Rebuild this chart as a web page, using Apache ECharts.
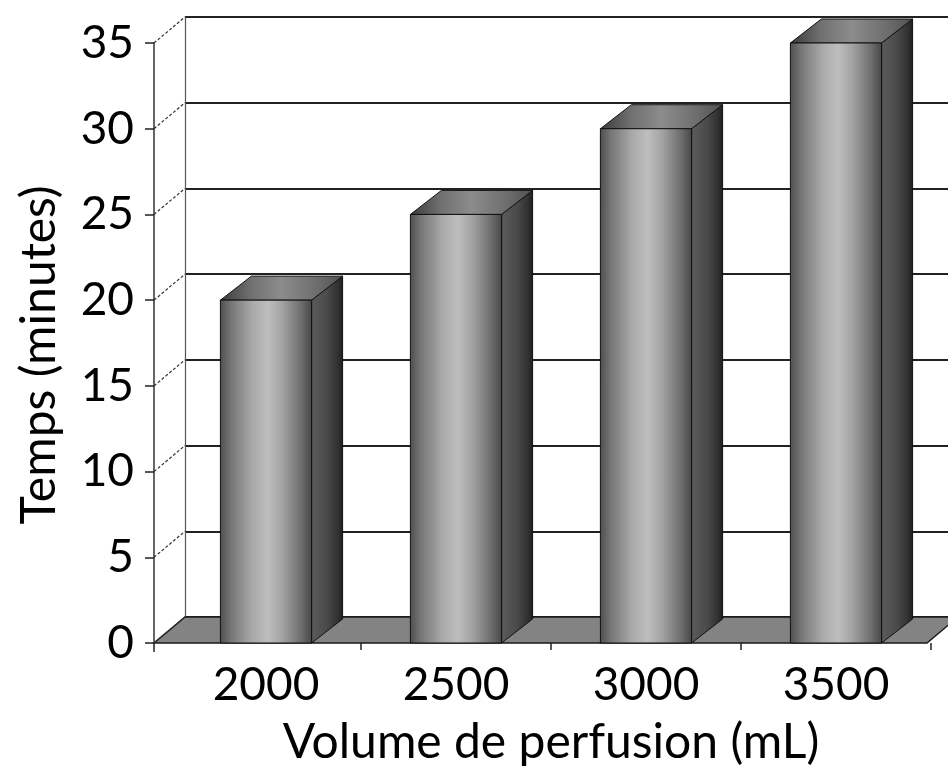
<!DOCTYPE html>
<html>
<head>
<meta charset="utf-8">
<script src="https://cdn.jsdelivr.net/npm/echarts@6/dist/echarts.min.js"></script>
<style>
  html, body { margin: 0; padding: 0; background: #fff; }
  #main { width: 948px; height: 775px; }
</style>
</head>
<body>
<div id="main"></div>
<script>
// data
const volumes = ['2000', '2500', '3000', '3500']
const temps = [20, 25, 30, 35]
const yTicks = [0, 5, 10, 15, 20, 25, 30, 35]

const FONT = 'Lato'
const DX = 31   // depth offset of the pseudo 3d walls
const DY = 26
const BDX = 31  // depth of the bars
const BDY = 24
const AXIS_OFFSET = 17

const chart = echarts.init(document.getElementById('main'))

function frontGrad() {
  return new echarts.graphic.LinearGradient(0, 0, 1, 0, [
    { offset: 0, color: '#4e4e4e' },
    { offset: 0.12, color: '#767676' },
    { offset: 0.35, color: '#a9a9a9' },
    { offset: 0.52, color: '#bebebe' },
    { offset: 0.68, color: '#a2a2a2' },
    { offset: 0.88, color: '#6e6e6e' },
    { offset: 1, color: '#474747' }
  ])
}
function sideGrad() {
  return new echarts.graphic.LinearGradient(0, 0, 1, 0, [
    { offset: 0, color: '#5c5c5c' },
    { offset: 0.5, color: '#4a4a4a' },
    { offset: 0.85, color: '#303030' },
    { offset: 1, color: '#1e1e1e' }
  ])
}
function topGrad() {
  return new echarts.graphic.LinearGradient(0, 0, 1, 0, [
    { offset: 0, color: '#3a3a3a' },
    { offset: 0.25, color: '#707070' },
    { offset: 0.5, color: '#8c8c8c' },
    { offset: 0.8, color: '#6c6c6c' },
    { offset: 1, color: '#505050' }
  ])
}

// floor, side wall edges and the little corner tick
function renderFrame(params, api) {
  const cs = params.coordSys
  const left = cs.x - AXIS_OFFSET
  const right = cs.x + cs.width - 4
  const base = api.coord([0, 0])[1]
  const children = []
  children.push({
    type: 'polygon',
    shape: { points: [[left, base], [right, base], [right + DX, base - DY], [left + DX, base - DY]] },
    style: { fill: '#838383', stroke: '#1a1a1a', lineWidth: 1.5 }
  })
  yTicks.forEach(function (v) {
    const y = api.coord([0, v])[1]
    children.push({
      type: 'line',
      shape: { x1: left, y1: y, x2: left + DX, y2: y - DY },
      style: { stroke: '#333', lineWidth: 1.2, lineDash: [3, 2] }
    })
  })
  children.push({
    type: 'line',
    shape: { x1: left, y1: base, x2: left, y2: base + 9 },
    style: { stroke: '#222', lineWidth: 1.5 }
  })
  return { type: 'group', children: children }
}

function renderBar(params, api) {
  const idx = api.value(0)
  const top = api.coord([idx, api.value(1)])
  const base = api.coord([idx, 0])
  const band = api.size([1, 0])[0]
  const w = band * 0.48
  const x0 = top[0] - w / 2
  const x1 = x0 + w
  const yt = top[1]
  const yb = base[1]
  return {
    type: 'group',
    children: [
      {
        type: 'polygon',
        shape: { points: [[x1, yb], [x1 + BDX, yb - BDY], [x1 + BDX, yt - BDY], [x1, yt]] },
        style: { fill: sideGrad(), stroke: '#111', lineWidth: 1 }
      },
      {
        type: 'polygon',
        shape: { points: [[x0, yt], [x1, yt], [x1 + BDX, yt - BDY], [x0 + BDX, yt - BDY]] },
        style: { fill: topGrad(), stroke: '#111', lineWidth: 1 }
      },
      {
        type: 'rect',
        shape: { x: x0, y: yt, width: w, height: yb - yt },
        style: { fill: frontGrad(), stroke: '#111', lineWidth: 1 }
      }
    ]
  }
}

chart.setOption({
  animation: false,
  backgroundColor: '#fff',
  grid: [
    { left: 171, right: 17, top: 43, bottom: 132 },
    // back wall, shifted up and right by the depth offset
    { left: 171 - AXIS_OFFSET + DX, right: 0, top: 43 - DY, bottom: 132 + DY }
  ],
  xAxis: [
    {
      type: 'category',
      gridIndex: 0,
      data: volumes,
      axisLine: { show: false },
      axisTick: {
        show: true,
        length: 7,
        interval: function (i) { return i !== 0 },
        lineStyle: { color: '#222', width: 1.5 }
      },
      axisLabel: { fontFamily: FONT, fontSize: 46, color: '#000', margin: 19 },
      name: 'Volume de perfusion (mL)',
      nameLocation: 'middle',
      nameGap: 76,
      nameTextStyle: { fontFamily: FONT, fontSize: 48, color: '#000' }
    },
    {
      type: 'category',
      gridIndex: 1,
      data: volumes,
      show: false
    }
  ],
  yAxis: [
    {
      type: 'value',
      gridIndex: 0,
      min: 0,
      max: 35,
      interval: 5,
      offset: AXIS_OFFSET,
      axisLine: { show: true, lineStyle: { color: '#333', width: 1.5 } },
      axisTick: { show: true, length: 9, lineStyle: { color: '#222', width: 1.5 } },
      splitLine: { show: false },
      axisLabel: { fontFamily: FONT, fontSize: 46, color: '#000', margin: 20 },
      name: 'Temps (minutes)',
      nameLocation: 'middle',
      nameGap: 90,
      nameTextStyle: { fontFamily: FONT, fontSize: 48, color: '#000', padding: [0, 24, 0, 0] }
    },
    {
      type: 'value',
      gridIndex: 1,
      min: 0,
      max: 35,
      interval: 5,
      axisLine: { show: true, lineStyle: { color: '#555', width: 1.2 } },
      axisTick: { show: false },
      axisLabel: { show: false },
      splitLine: { show: true, lineStyle: { color: '#222', width: 2 } }
    }
  ],
  series: [
    {
      type: 'custom',
      name: 'frame',
      xAxisIndex: 0,
      yAxisIndex: 0,
      z: 1,
      silent: true,
      data: [[0, 0]],
      renderItem: renderFrame
    },
    {
      type: 'custom',
      name: 'Temps',
      xAxisIndex: 0,
      yAxisIndex: 0,
      z: 3,
      data: temps.map(function (v, i) { return [i, v] }),
      renderItem: renderBar
    }
  ]
})
</script>
</body>
</html>
